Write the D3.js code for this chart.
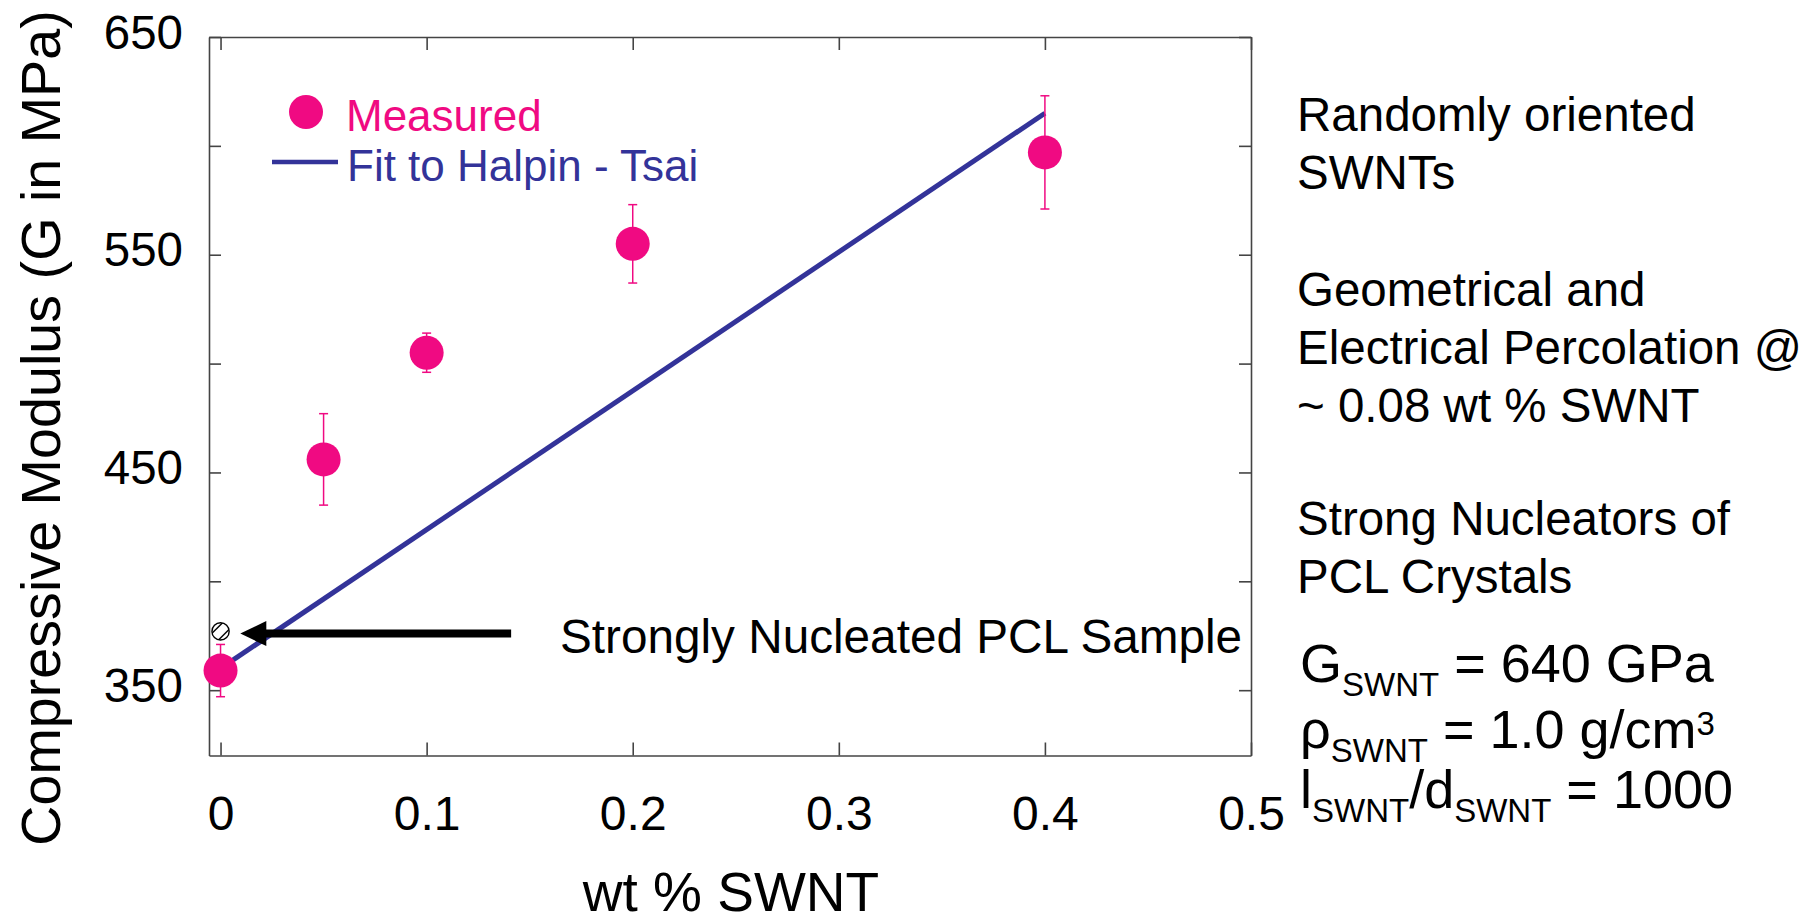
<!DOCTYPE html>
<html>
<head>
<meta charset="utf-8">
<script src="https://cdn.jsdelivr.net/npm/d3@7"></script>
<style>
  html, body { margin: 0; padding: 0; background: #fff; }
  svg { display: block; font-family: "Liberation Sans", Arial, sans-serif; }
</style>
</head>
<body>
<svg id="chart" width="1818" height="923"></svg>
<script>
// ---- data ----
const wtPercent = [0, 0.05, 0.1, 0.2, 0.4];
const measuredG = [359, 456, 505, 555, 597];
const measuredErr = [12, 21, 9, 18, 26];
const fitX = [0, 0.4];
const fitG = [360, 615];
const nucleatedX = [0];
const nucleatedG = [377];
const xTicks = [0, 0.1, 0.2, 0.3, 0.4, 0.5];
const xTickLabels = ["0", "0.1", "0.2", "0.3", "0.4", "0.5"];
const yTicks = [350, 400, 450, 500, 550, 600, 650];
const yTickLabels = ["350", "", "450", "", "550", "", "650"];
const legendLabels = ["Measured", "Fit to Halpin - Tsai"];
const xTitle = "wt % SWNT";
const yTitle = "Compressive Modulus (G in MPa)";
const arrowLabel = "Strongly Nucleated PCL Sample";
const noteLines = [
  ["Randomly oriented", "SWNTs"],
  ["Geometrical and", "Electrical Percolation @", "~ 0.08 wt % SWNT"],
  ["Strong Nucleators of", "PCL Crystals"]
];

// ---- layout ----
const PINK = "#f00a82", BLUE = "#333399", AXIS = "#444";
const L = 209, R = 1251, T = 37, B = 755.5;
const x = d3.scaleLinear().domain([-0.0056, 0.5]).range([L, R]);
const y = d3.scaleLinear().domain([320, 650]).range([B, T]);

const svg = d3.select("#chart");

function styleAxis(g) {
  g.select(".domain").attr("stroke", AXIS).attr("stroke-width", 1.6);
  g.selectAll(".tick line").attr("stroke", AXIS).attr("stroke-width", 1.6);
}
const xBottom = svg.append("g").attr("transform", `translate(0,${B})`)
  .call(d3.axisBottom(x).tickValues(xTicks).tickSizeInner(-13).tickSizeOuter(0)
    .tickPadding(0).tickFormat((d, i) => xTickLabels[i]));
styleAxis(xBottom);
xBottom.selectAll("text").attr("font-size", 48).attr("fill", "#000")
  .attr("font-family", "Liberation Sans, Arial, sans-serif")
  .attr("y", 829.5 - B).attr("dy", 0);

const xTop = svg.append("g").attr("transform", `translate(0,${T})`)
  .call(d3.axisTop(x).tickValues(xTicks).tickSizeInner(-13).tickSizeOuter(0).tickFormat(""));
styleAxis(xTop);

const yLeft = svg.append("g").attr("transform", `translate(${L},0)`)
  .call(d3.axisLeft(y).tickValues(yTicks).tickSizeInner(-12).tickSizeOuter(0)
    .tickPadding(26).tickFormat((d, i) => yTickLabels[i]));
styleAxis(yLeft);
yLeft.selectAll("text").attr("font-size", 47.5).attr("fill", "#000")
  .attr("font-family", "Liberation Sans, Arial, sans-serif")
  .attr("dy", 11);

const yRight = svg.append("g").attr("transform", `translate(${R},0)`)
  .call(d3.axisRight(y).tickValues(yTicks).tickSizeInner(-12).tickSizeOuter(0).tickFormat(""));
styleAxis(yRight);

// axis titles
svg.append("text").attr("x", 731).attr("y", 911).attr("text-anchor", "middle")
  .attr("font-size", 55).attr("fill", "#000").text(xTitle);
svg.append("text").attr("transform", "translate(60,428) rotate(-90)")
  .attr("text-anchor", "middle").attr("font-size", 55.7).attr("fill", "#000").text(yTitle);

// fit line
svg.append("path")
  .datum(fitX.map((d, i) => [d, fitG[i]]))
  .attr("d", d3.line().x(d => x(d[0])).y(d => y(d[1])))
  .attr("stroke", BLUE).attr("stroke-width", 5).attr("fill", "none");

// error bars
const eb = svg.append("g").attr("stroke", PINK).attr("stroke-width", 1.5);
wtPercent.forEach((w, i) => {
  const cx = x(w), y1 = y(measuredG[i] + measuredErr[i]), y2 = y(measuredG[i] - measuredErr[i]);
  eb.append("line").attr("x1", cx).attr("x2", cx).attr("y1", y1).attr("y2", y2);
  eb.append("line").attr("x1", cx - 4.5).attr("x2", cx + 4.5).attr("y1", y1).attr("y2", y1);
  eb.append("line").attr("x1", cx - 4.5).attr("x2", cx + 4.5).attr("y1", y2).attr("y2", y2);
});

// measured points
svg.append("g").selectAll("circle").data(wtPercent).join("circle")
  .attr("cx", d => x(d)).attr("cy", (d, i) => y(measuredG[i]))
  .attr("r", 17).attr("fill", PINK);

// hatched nucleated sample
const defs = svg.append("defs");
nucleatedX.forEach((w, i) => {
  const cx = x(w), cy = y(nucleatedG[i]), r = 8.6;
  defs.append("clipPath").attr("id", "hc" + i)
    .append("circle").attr("cx", cx).attr("cy", cy).attr("r", r);
  const g = svg.append("g");
  g.append("circle").attr("cx", cx).attr("cy", cy).attr("r", r).attr("fill", "#fff");
  const hg = g.append("g").attr("clip-path", `url(#hc${i})`)
    .attr("stroke", "#000").attr("stroke-width", 1.4);
  [-3.3, 3.3].forEach(off => {
    hg.append("line")
      .attr("x1", cx - 12 + off).attr("y1", cy + 12 + off)
      .attr("x2", cx + 12 + off).attr("y2", cy - 12 + off);
  });
  g.append("circle").attr("cx", cx).attr("cy", cy).attr("r", r)
    .attr("fill", "none").attr("stroke", "#000").attr("stroke-width", 1.4);
});

// arrow annotation
const tipX = x(0.0096), tailX = x(0.141), ay = y(376);
svg.append("line").attr("x1", tailX).attr("x2", tipX + 22).attr("y1", ay).attr("y2", ay)
  .attr("stroke", "#000").attr("stroke-width", 8);
svg.append("path")
  .attr("d", `M${tipX},${ay} L${tipX + 26},${ay - 12.5} L${tipX + 26},${ay + 12.5} Z`)
  .attr("fill", "#000");
svg.append("text").attr("x", 560).attr("y", 653).attr("font-size", 47.7).attr("fill", "#000")
  .text(arrowLabel);

// legend
svg.append("circle").attr("cx", 306).attr("cy", 112).attr("r", 17).attr("fill", PINK);
svg.append("text").attr("x", 346).attr("y", 131).attr("font-size", 44).attr("fill", PINK).text(legendLabels[0]);
svg.append("line").attr("x1", 272).attr("x2", 338).attr("y1", 162).attr("y2", 162)
  .attr("stroke", BLUE).attr("stroke-width", 4.5);
svg.append("text").attr("x", 347).attr("y", 181).attr("font-size", 44).attr("fill", BLUE).text(legendLabels[1]);

// notes on right
const noteStarts = [131, 306, 535];
noteLines.forEach((lines, gi) => {
  lines.forEach((t, li) => {
    svg.append("text").attr("x", 1297).attr("y", noteStarts[gi] + li * 58)
      .attr("font-size", 47.5).attr("fill", "#000").text(t);
  });
});

// formulas
const F = 54, S = 33, SUB = 14;
function formula(yb, parts) {
  const t = svg.append("text").attr("x", 1300).attr("y", yb).attr("fill", "#000");
  parts.forEach(p => {
    t.append("tspan").attr("font-size", p.s).attr("dy", p.dy || 0).text(p.t);
  });
}
formula(682, [
  {t: "G", s: F}, {t: "SWNT", s: S, dy: SUB}, {t: " = 640 GPa", s: F, dy: -SUB}
]);
formula(748, [
  {t: "ρ", s: F}, {t: "SWNT", s: S, dy: SUB}, {t: " = 1.0 g/cm", s: F, dy: -SUB},
  {t: "3", s: S, dy: -13}
]);
formula(808, [
  {t: "l", s: F}, {t: "SWNT", s: S, dy: SUB}, {t: "/d", s: F, dy: -SUB},
  {t: "SWNT", s: S, dy: SUB}, {t: " = 1000", s: F, dy: -SUB}
]);
</script>
</body>
</html>
